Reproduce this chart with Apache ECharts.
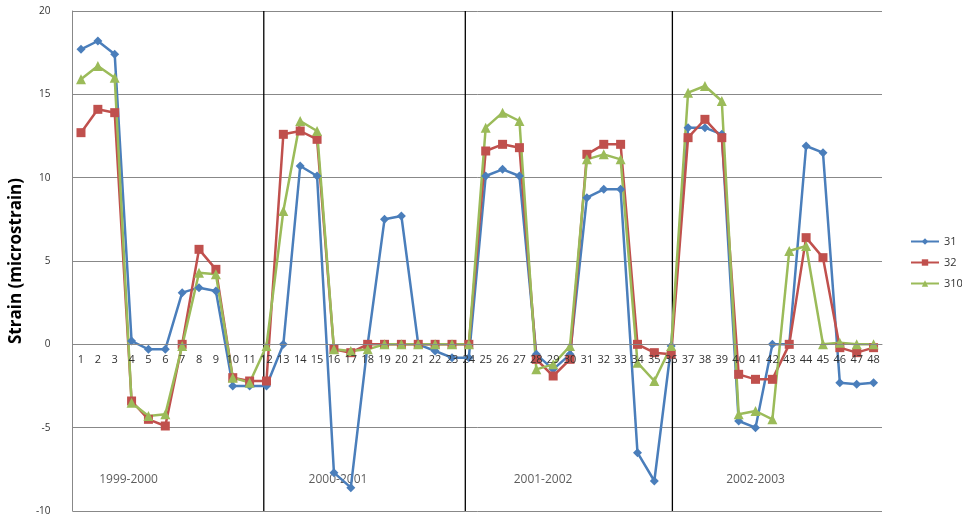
<!DOCTYPE html>
<html>
<head>
<meta charset="utf-8">
<title>Strain</title>
<script src="https://cdn.jsdelivr.net/npm/echarts@6/dist/echarts.min.js"></script>
<style>
  html, body { margin: 0; padding: 0; background: #fff; }
  #chart { width: 962px; height: 519px; }
</style>
</head>
<body>
<div id="chart"></div>
<script>
// categories 1..48 (months)
const categories = ['1','2','3','4','5','6','7','8','9','10','11','12','13','14','15','16','17','18','19','20','21','22','23','24',
  '25','26','27','28','29','30','31','32','33','34','35','36','37','38','39','40','41','42','43','44','45','46','47','48'];

const s31 = [17.7, 18.2, 17.4, 0.2, -0.3, -0.3, 3.1, 3.4, 3.2, -2.5, -2.5, -2.5,
  0, 10.7, 10.1, -7.7, -8.6, 0, 7.5, 7.7, 0, -0.4, -0.8, -0.8,
  10.1, 10.5, 10.1, -0.6, -1.5, -0.6, 8.8, 9.3, 9.3, -6.5, -8.2, -0.1,
  13.0, 13.0, 12.6, -4.6, -5.0, 0, 0, 11.9, 11.5, -2.3, -2.4, -2.3];

const s32 = [12.7, 14.1, 13.9, -3.4, -4.5, -4.9, 0, 5.7, 4.5, -2.0, -2.2, -2.2,
  12.6, 12.8, 12.3, -0.3, -0.5, 0, 0, 0, 0, 0, 0, 0,
  11.6, 12.0, 11.8, -0.9, -1.9, -0.9, 11.4, 12.0, 12.0, 0, -0.5, -0.6,
  12.4, 13.5, 12.4, -1.8, -2.1, -2.1, 0, 6.4, 5.2, -0.2, -0.5, -0.2];

const s310 = [15.9, 16.7, 16.0, -3.5, -4.3, -4.2, -0.1, 4.3, 4.2, -2.0, -2.3, -0.1,
  8.0, 13.4, 12.8, -0.3, -0.4, -0.3, 0, 0, 0, 0, 0, 0,
  13.0, 13.9, 13.4, -1.5, -1.2, -0.1, 11.1, 11.4, 11.1, -1.1, -2.2, -0.1,
  15.1, 15.5, 14.6, -4.2, -4.0, -4.5, 5.6, 5.9, 0, 0.1, 0, 0];

// year dividers and labels, in category-slot units (0 = left edge, 48 = right edge)
const dividers = [11.34, 23.29, 35.57];
const periodNames = ['1999-2000', '2000-2001', '2001-2002', '2002-2003'];
const periodX = [3.32, 15.74, 27.9, 40.5];
const periodY = -8.1;

const yMin = -10, yMax = 20;
const gridTop = 11, gridBottom = 8, chartH = 519;

const chart = echarts.init(document.getElementById('chart'));

// move the category axis up to the y = 0 line (like Excel's axis crossing at 0)
const plotH = chartH - gridTop - gridBottom;
const zeroOffset = -plotH * (0 - yMin) / (yMax - yMin);

const lineSeries = (name, data, color, symbol, size) => ({
    name: name,
    type: 'line',
    data: data,
    symbol: symbol,
    symbolSize: size,
    itemStyle: { color: color },
    lineStyle: { color: color, width: 2.5 },
    z: 3
});

const dividerSeries = dividers.map(x => ({
    type: 'line',
    xAxisIndex: 1,
    data: [[x, yMin], [x, yMax]],
    symbol: 'none',
    silent: true,
    lineStyle: { color: '#000', width: 1.3 },
    z: 2
}));

const option = {
    animation: false,
    backgroundColor: '#fff',
    textStyle: { fontFamily: 'Open Sans, sans-serif' },
    grid: { left: 72, right: 80, top: gridTop, bottom: gridBottom },
    legend: {
        data: ['31', '32', '310'],
        orient: 'vertical',
        left: 905,
        top: 231,
        itemWidth: 28,
        itemHeight: 8,
        itemGap: 10,
        textStyle: { fontSize: 11, color: '#333' }
    },
    xAxis: [{
        type: 'category',
        data: categories,
        boundaryGap: true,
        position: 'bottom',
        offset: zeroOffset,
        zlevel: 1,
        axisLine: { onZero: false, lineStyle: { color: '#888' } },
        axisTick: { show: false },
        axisLabel: { interval: 0, fontSize: 11, color: '#333', margin: 10 },
        splitLine: { show: false }
    }, {
        type: 'value',
        min: 0,
        max: 48,
        show: false,
        axisLine: { onZero: false }
    }],
    yAxis: {
        type: 'value',
        min: yMin,
        max: yMax,
        interval: 5,
        name: 'Strain (microstrain)',
        nameLocation: 'middle',
        nameGap: 42,
        nameTextStyle: { fontSize: 17, fontWeight: 'bold', color: '#000' },
        axisLine: { show: true, onZero: false, lineStyle: { color: '#888' } },
        axisTick: { show: false },
        axisLabel: { fontSize: 10, color: '#333', margin: 22 },
        splitLine: { lineStyle: { color: '#888', width: 1 } }
    },
    series: [
        ...dividerSeries,
        lineSeries('31', s31, '#4a7ebb', 'diamond', 9),
        lineSeries('32', s32, '#c0504d', 'rect', 9),
        lineSeries('310', s310, '#9bbb59', 'triangle', 10),
        {
            type: 'scatter',
            xAxisIndex: 1,
            symbolSize: 0,
            silent: true,
            data: periodNames.map((n, i) => [periodX[i], periodY, n]),
            label: {
                show: true,
                position: 'inside',
                formatter: p => p.value[2],
                fontSize: 12,
                color: '#333'
            }
        }
    ]
};

chart.setOption(option);
</script>
</body>
</html>
